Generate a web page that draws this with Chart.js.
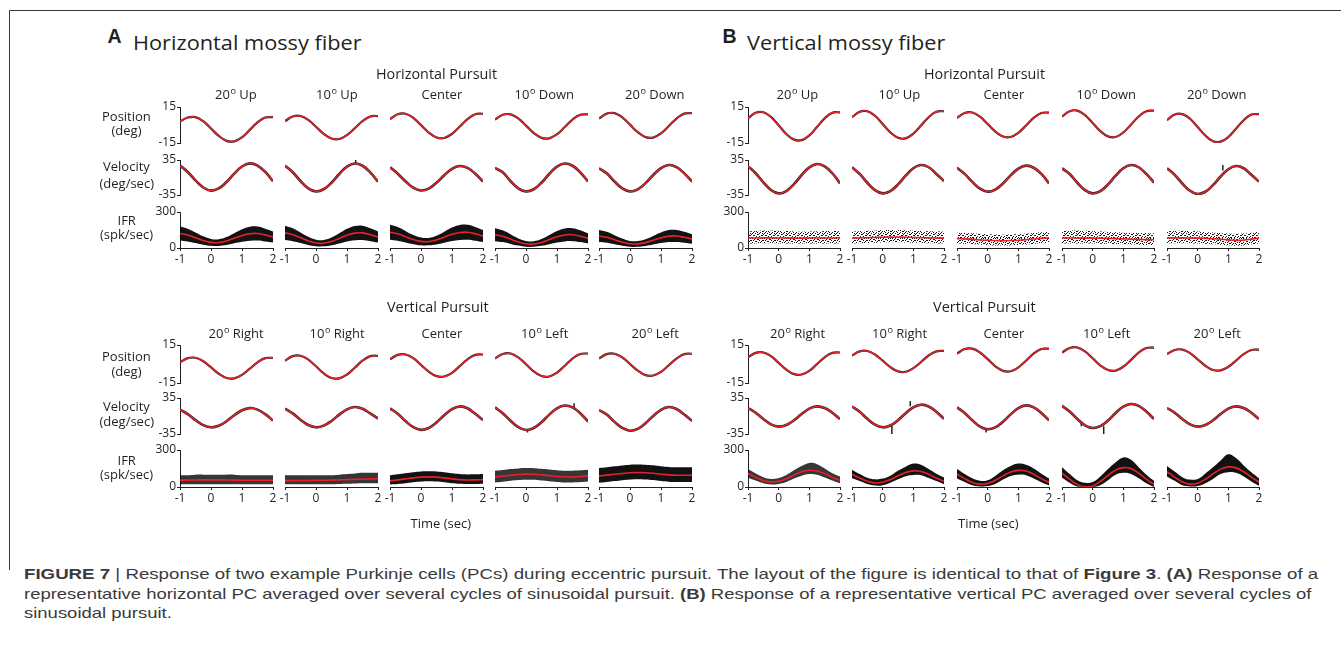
<!DOCTYPE html>
<html>
<head>
<meta charset="utf-8">
<script src="https://cdn.jsdelivr.net/npm/chart.js@4.4.1/dist/chart.umd.min.js"></script>
<style>
body { margin: 0; background: #fff; }
#fig { position: relative; width: 1341px; height: 648px; overflow: hidden; background: #fff; color: #231f20; }
#fig canvas { position: absolute; }
.t { position: absolute; white-space: nowrap; line-height: 1; transform-origin: 0 0; }
.bl { display: inline-block; width: 0; height: 0; }
.sup { font-size: 0.7em; position: relative; top: -0.5em; margin-left: 0.5px; }
.line { position: absolute; background: #3a3a3a; }
</style>
</head>
<body>
<div id="fig"></div>
<script>
// ---- data ----
const timeSec = [-1, -0.75, -0.5, -0.25, 0, 0.25, 0.5, 0.75, 1, 1.25, 1.5, 1.75, 2]
const timeTicks = [-1, 0, 1, 2]
const posTicks = [-15, 15]
const velTicks = [-35, 35]
const ifrTicks = [0, 300]

const hPursuitCols = ["20|Up", "10|Up", "Center", "10|Down", "20|Down"]
const vPursuitCols = ["20|Right", "10|Right", "Center", "10|Left", "20|Left"]

// A: horizontal mossy fiber, horizontal pursuit
const posA_H = [
    [3.0, 6.2, 6.6, 3.2, -2.9, -9.1, -13.2, -13.6, -10.2, -4.1, 2.1, 6.2, 6.6],
    [3.2, 7.1, 7.5, 4.2, -1.5, -7.4, -11.3, -11.7, -8.4, -2.7, 3.2, 7.1, 7.5],
    [4.9, 9.0, 9.4, 6.0, -0.1, -6.3, -10.4, -10.8, -7.4, -1.3, 4.9, 9.0, 9.4],
    [4.5, 8.5, 8.9, 5.5, -0.5, -6.7, -10.7, -11.1, -7.7, -1.7, 4.5, 8.5, 8.9],
    [5.4, 9.5, 9.9, 6.4, 0.3, -6.0, -10.1, -10.5, -7.0, -0.9, 5.4, 9.5, 9.9]
]
const velA_H = [
    [23.9, 11.1, -5.8, -20.0, -26.3, -21.9, -9.1, 7.8, 22.0, 28.3, 23.9, 11.1, -7.5],
    [23.5, 10.4, -7.0, -21.6, -28.0, -23.5, -10.4, 7.0, 21.6, 28.0, 23.5, 10.4, -8.5],
    [20.5, 7.6, -7.6, -20.4, -26.0, -22.1, -10.6, 4.6, 17.4, 23.0, 19.1, 7.6, -8.0],
    [19.0, 10.4, -7.0, -21.6, -28.0, -23.5, -10.4, 7.0, 21.6, 28.0, 23.5, 10.4, -8.0],
    [18.5, 8.3, -8.1, -21.9, -28.0, -23.8, -11.3, 5.1, 18.9, 25.0, 20.8, 8.3, -8.1]
]
const ifrA_H = [
    [121, 108, 85, 62, 47, 45, 58, 81, 104, 119, 121, 108, 92],
    [126, 111, 86, 59, 42, 40, 55, 80, 107, 124, 126, 111, 92],
    [131, 118, 94, 70, 55, 53, 66, 90, 114, 129, 131, 118, 100],
    [111, 98, 74, 50, 35, 33, 46, 70, 94, 109, 111, 98, 80],
    [100, 89, 69, 49, 35, 34, 45, 65, 85, 99, 100, 89, 75]
]
const ifrHiA_H = [
    [179, 161, 129, 97, 76, 73, 91, 123, 156, 177, 179, 161, 138],
    [186, 165, 130, 93, 69, 66, 87, 122, 160, 184, 186, 165, 138],
    [193, 175, 142, 108, 87, 84, 102, 136, 170, 191, 193, 175, 150],
    [165, 147, 114, 80, 59, 56, 74, 108, 142, 163, 165, 147, 122],
    [150, 135, 107, 79, 59, 58, 73, 101, 129, 149, 150, 135, 115]
]
const ifrLoA_H = [
    [63, 55, 41, 27, 18, 17, 25, 39, 52, 61, 63, 55, 45],
    [66, 57, 42, 25, 15, 14, 23, 38, 54, 64, 66, 57, 45],
    [69, 61, 46, 32, 23, 22, 30, 44, 58, 67, 69, 61, 50],
    [57, 49, 34, 20, 11, 10, 18, 32, 46, 55, 57, 49, 38],
    [50, 43, 31, 19, 11, 10, 17, 29, 41, 49, 50, 43, 35]
]

// A: horizontal mossy fiber, vertical pursuit
const posA_V = [
    [1.3, 4.6, 4.9, 2.2, -2.7, -7.7, -11.0, -11.3, -8.6, -3.7, 1.3, 4.6, 4.9],
    [2.6, 6.2, 6.5, 3.5, -1.8, -7.4, -11.0, -11.3, -8.3, -3.0, 2.6, 6.2, 6.5],
    [3.7, 7.2, 7.5, 4.6, -0.7, -6.1, -9.6, -9.9, -7.0, -1.7, 3.7, 7.2, 7.5],
    [4.3, 7.9, 8.3, 5.2, -0.2, -5.9, -9.5, -9.9, -6.8, -1.4, 4.3, 7.9, 8.3],
    [4.3, 7.8, 8.1, 5.2, 0.0, -5.3, -8.8, -9.1, -6.2, -1.0, 4.3, 7.8, 8.1]
]
const velA_V = [
    [12.4, 3.6, -8.0, -17.7, -22.0, -19.0, -10.2, 1.4, 11.1, 15.4, 12.4, 3.6, -8.9],
    [14.2, 5.0, -7.2, -17.5, -22.0, -18.8, -9.6, 2.6, 12.9, 17.4, 14.2, 5.0, -5.0],
    [15.0, 4.2, -9.9, -21.8, -27.0, -23.4, -12.6, 1.5, 13.4, 18.6, 15.0, 4.2, -8.0],
    [16.7, 5.5, -9.3, -21.6, -27.1, -23.3, -12.1, 2.7, 15.0, 20.5, 16.7, 5.5, -10.8],
    [11.5, 2.9, -11.4, -23.3, -28.6, -24.9, -14.1, 0.2, 12.1, 17.4, 13.7, 2.9, -9.5]
]
const ifrA_V = [
    [55, 56, 57, 58, 58, 58, 57, 56, 55, 55, 55, 55, 55],
    [52, 52, 53, 53, 54, 55, 56, 58, 60, 62, 64, 66, 68],
    [50, 58, 66, 74, 80, 82, 80, 74, 66, 60, 57, 58, 60],
    [82, 88, 95, 101, 104, 103, 98, 92, 86, 82, 82, 85, 90],
    [90, 96, 103, 110, 116, 118, 116, 111, 104, 98, 95, 95, 96]
]
const ifrHiA_V = [
    [95, 95, 100, 100, 100, 100, 100, 100, 95, 95, 95, 95, 95],
    [95, 95, 95, 95, 95, 95, 95, 100, 105, 110, 115, 115, 115],
    [95, 103, 111, 119, 125, 127, 125, 119, 111, 105, 102, 103, 105],
    [132, 138, 145, 151, 154, 153, 148, 142, 136, 132, 132, 135, 140],
    [155, 161, 168, 175, 181, 183, 181, 176, 169, 163, 160, 160, 161]
]
const ifrLoA_V = [
    [22, 22, 22, 22, 22, 22, 22, 22, 22, 22, 22, 22, 22],
    [22, 22, 22, 22, 22, 22, 22, 24, 26, 28, 30, 30, 30],
    [20, 24, 30, 38, 44, 46, 44, 38, 30, 26, 24, 24, 26],
    [37, 43, 50, 56, 59, 58, 53, 47, 41, 37, 37, 40, 45],
    [35, 41, 48, 55, 61, 63, 61, 56, 49, 43, 40, 40, 41]
]

// B: vertical mossy fiber, horizontal pursuit
const posB_H = [
    [5.5, 10.2, 10.6, 6.7, -0.3, -7.5, -12.2, -12.6, -8.7, -1.7, 5.5, 10.2, 10.6],
    [6.5, 11.1, 11.5, 7.7, 0.9, -6.1, -10.7, -11.1, -7.3, -0.5, 6.5, 11.1, 11.5],
    [5.9, 10.0, 10.4, 6.9, 0.8, -5.5, -9.6, -10.0, -6.5, -0.4, 5.9, 10.0, 10.4],
    [7.1, 11.5, 12.0, 8.2, 1.7, -5.1, -9.5, -10.0, -6.2, 0.3, 7.1, 11.5, 12.0],
    [4.0, 8.7, 9.1, 5.2, -1.7, -8.8, -13.5, -13.9, -10.0, -3.1, 4.0, 8.7, 9.1]
]
const velB_H = [
    [22.3, 8.5, -9.8, -25.0, -31.8, -27.1, -13.3, 5.0, 20.2, 27.0, 22.3, 8.5, -11.7],
    [20.5, 7.1, -10.5, -25.3, -31.8, -27.3, -13.9, 3.7, 18.5, 25.0, 20.5, 7.1, -7.0],
    [19.5, 7.3, -8.8, -22.3, -28.3, -24.1, -11.9, 4.2, 17.7, 23.7, 19.5, 7.3, -11.7],
    [18.3, 7.1, -10.5, -25.3, -31.8, -27.3, -13.9, 3.7, 18.5, 25.0, 20.5, 7.1, -10.3],
    [18.5, 5.4, -12.0, -26.6, -33.0, -28.5, -15.4, 2.0, 16.6, 23.0, 18.5, 5.4, -8.3]
]
const ifrB_H = [
    [83, 83, 84, 84, 83, 83, 82, 82, 83, 83, 83, 83, 83],
    [82, 84, 86, 88, 90, 92, 92, 90, 88, 86, 84, 83, 82],
    [78, 76, 72, 68, 64, 62, 61, 62, 65, 70, 75, 80, 83],
    [83, 83, 83, 82, 82, 81, 80, 78, 76, 74, 72, 70, 69],
    [84, 84, 84, 83, 82, 80, 77, 73, 68, 64, 66, 74, 82]
]
const ifrHiB_H = [
    [140, 142, 145, 146, 144, 141, 138, 136, 137, 139, 140, 141, 140],
    [138, 140, 143, 146, 148, 150, 150, 147, 144, 141, 139, 138, 137],
    [128, 126, 122, 118, 114, 112, 111, 112, 116, 121, 126, 131, 134],
    [142, 144, 145, 143, 140, 137, 134, 131, 128, 126, 124, 123, 122],
    [140, 142, 143, 141, 138, 134, 130, 126, 121, 118, 120, 128, 136]
]
const ifrLoB_H = [
    [38, 38, 39, 39, 38, 38, 37, 37, 38, 38, 38, 38, 38],
    [37, 39, 41, 43, 45, 47, 47, 45, 43, 41, 39, 38, 37],
    [37, 35, 31, 27, 23, 21, 20, 21, 24, 29, 34, 39, 42],
    [38, 38, 38, 37, 37, 36, 35, 33, 31, 29, 27, 25, 24],
    [39, 39, 39, 38, 37, 35, 32, 28, 23, 19, 21, 29, 37]
]

// B: vertical mossy fiber, vertical pursuit
const posB_V = [
    [5.3, 8.8, 9.1, 6.2, 0.9, -4.5, -8.0, -8.3, -5.4, -0.1, 5.3, 8.8, 9.1],
    [6.7, 10.0, 10.3, 7.5, 2.6, -2.5, -5.8, -6.1, -3.3, 1.6, 6.7, 10.0, 10.3],
    [8.2, 11.8, 12.1, 9.1, 3.8, -1.8, -5.4, -5.7, -2.7, 2.6, 8.2, 11.8, 12.1],
    [9.0, 12.6, 13.0, 9.9, 4.5, -1.2, -4.8, -5.2, -2.1, 3.3, 9.0, 12.6, 13.0],
    [7.8, 11.1, 11.4, 8.6, 3.7, -1.4, -4.7, -5.0, -2.2, 2.7, 7.8, 11.1, 11.4]
]
const velB_V = [
    [15.5, 6.3, -5.9, -16.2, -20.7, -17.5, -8.3, 3.9, 14.2, 18.7, 15.5, 6.3, -5.9],
    [18.5, 8.1, -5.5, -16.9, -22.0, -18.5, -8.1, 5.5, 16.9, 22.0, 18.5, 8.1, -5.5],
    [16.9, 6.0, -8.4, -20.5, -25.8, -22.1, -11.2, 3.2, 15.3, 20.6, 16.9, 6.0, -8.4],
    [19.7, 8.7, -5.9, -18.0, -23.4, -19.7, -8.7, 5.9, 18.0, 23.4, 19.7, 8.7, -5.9],
    [15.5, 6.3, -5.9, -16.2, -20.7, -17.5, -8.3, 3.9, 14.2, 18.7, 15.5, 6.3, -5.9]
]
const ifrB_V = [
    [109, 79, 53, 40, 46, 67, 97, 123, 136, 130, 109, 79, 53],
    [103, 73, 46, 33, 39, 61, 91, 118, 131, 125, 103, 73, 46],
    [104, 68, 37, 23, 29, 54, 90, 121, 135, 129, 104, 68, 37],
    [113, 64, 21, 1, 9, 45, 94, 137, 157, 149, 113, 64, 21],
    [124, 80, 41, 23, 31, 62, 106, 145, 163, 155, 124, 80, 41]
]
const ifrHiB_V = [
    [145, 110, 80, 65, 72, 97, 135, 170, 195, 185, 150, 112, 85],
    [140, 105, 75, 62, 68, 92, 132, 165, 190, 180, 145, 108, 78],
    [145, 105, 70, 50, 55, 90, 135, 170, 190, 180, 150, 108, 70],
    [160, 105, 55, 35, 40, 85, 145, 200, 240, 220, 160, 100, 50],
    [170, 125, 80, 60, 65, 110, 160, 215, 265, 235, 175, 120, 70]
]
const ifrLoB_V = [
    [75, 52, 30, 20, 24, 40, 68, 92, 105, 100, 78, 52, 30],
    [70, 48, 25, 12, 15, 35, 62, 88, 98, 95, 72, 48, 22],
    [68, 40, 15, 5, 8, 25, 60, 90, 100, 95, 68, 38, 12],
    [75, 35, 5, 0, 0, 15, 55, 100, 115, 105, 70, 30, 0],
    [85, 50, 15, 5, 8, 30, 65, 105, 120, 115, 85, 45, 10]
]

// brief saccade-like glitches in the black velocity traces: [block, column, time, from, to]
const velSpikes = [
    ["A_H", 1, 1.28, 27, 39],
    ["A_V", 3, 1.55, 15, 25],
    ["A_V", 3, 0.05, -27, -32],
    ["B_H", 4, 0.82, 14, 25],
    ["B_V", 1, 0.3, -16, -35],
    ["B_V", 1, 0.9, 19, 29],
    ["B_V", 2, -0.05, -25, -32],
    ["B_V", 3, 0.36, -20, -35],
    ["B_V", 3, -0.37, -12, -20]
]

// ---- layout ----
const INK = "#231f20"
const RED = "#e8202a"
const FONT = '"Open Sans", sans-serif'
const PADL = 44, PADR = 8, PADT = 10, PADB = 24

const colLeftA = [180, 285, 390, 495, 599]
const colLeftB = [748, 852, 957, 1062, 1167]
const titleXA = [236, 337, 442, 544.5, 655]
const titleXB = [797.5, 899.5, 1004, 1106.5, 1217]
const rowsTop = [[107, 36], [160, 35], [212, 36]]
const rowsBottom = [[345, 38], [398, 36], [450, 37]]

// speckle mask for the sparse spike-rate dot clouds (1 = dot)
const speckle = ["100100001010", "001001100000", "010000010011", "000110000100", "100000101000", "001010000011",
                 "010001001000", "100100010010", "000001100001", "011000000110", "000010010000", "100100100101"]
const cloudFill = { dense: "rgba(0,0,0,0.93)", medium: "rgba(10,10,10,0.82)" }
{
    const pc = document.createElement("canvas")
    const n = speckle.length
    pc.width = n
    pc.height = n
    const g = pc.getContext("2d")
    g.fillStyle = "#111"
    speckle.forEach((row, yy) => {
        for (let xx = 0; xx < n; xx++) if (row[xx] === "1") g.fillRect(xx, yy, 1, 1)
    })
    cloudFill.sparse = g.createPattern(pc, "repeat")
}

const fig = document.getElementById("fig")

function txt(html, x, base, o) {
    o = o || {}
    const d = document.createElement("div")
    d.className = "t"
    d.style.fontSize = (o.size || 13) + "px"
    d.style.fontFamily = o.family || FONT
    if (o.weight) d.style.fontWeight = o.weight
    if (o.color) d.style.color = o.color
    d.innerHTML = html + '<span class="bl"></span>'
    fig.appendChild(d)
    const w = d.offsetWidth
    const b = d.querySelector(".bl").offsetTop
    let sx = o.scale || 1
    if (o.width) sx = o.width / w
    if (sx !== 1) d.style.transform = "scaleX(" + sx + ")"
    let left = x
    if (o.align === "center") left = x - w * sx / 2
    if (o.align === "right") left = x - w * sx
    d.style.left = left + "px"
    d.style.top = (base - b) + "px"
    return sx
}

function degTitle(s) {
    if (s.indexOf("|") < 0) return s
    const p = s.split("|")
    return p[0] + '<span class="sup">o</span> ' + p[1]
}

function pts(arr) {
    return timeSec.map((t, i) => ({ x: t, y: arr[i] }))
}

function makePlot(x, y, w, h, yMin, yMax, yTicks, showX, showY, datasets) {
    const c = document.createElement("canvas")
    const cw = w + PADL + PADR, ch = h + PADT + PADB
    c.width = cw
    c.height = ch
    c.style.left = (x - PADL) + "px"
    c.style.top = (y - PADT) + "px"
    c.style.width = cw + "px"
    c.style.height = ch + "px"
    fig.appendChild(c)

    const axis = () => ({
        grid: { drawOnChartArea: false, drawTicks: true, tickLength: 3, color: INK, lineWidth: 1 },
        border: { display: true, color: INK, width: 1 },
        ticks: { color: INK, font: { family: "Open Sans", size: 12 }, padding: 1, autoSkip: false, maxRotation: 0 }
    })

    const xs = axis()
    xs.type = "linear"
    xs.min = -1
    xs.max = 2
    xs.display = showX
    xs.afterBuildTicks = s => { s.ticks = timeTicks.map(v => ({ value: v })) }
    if (showX) xs.afterFit = s => { s.height = PADB; s.paddingLeft = 0; s.paddingRight = 0 }

    const ys = axis()
    ys.type = "linear"
    ys.min = yMin
    ys.max = yMax
    ys.display = showY
    ys.afterBuildTicks = s => { s.ticks = yTicks.map(v => ({ value: v })) }
    if (showY) ys.afterFit = s => { s.width = PADL; s.paddingTop = 0; s.paddingBottom = 0 }

    new Chart(c, {
        type: "line",
        data: { datasets: datasets },
        options: {
            responsive: false,
            animation: false,
            devicePixelRatio: 1,
            events: [],
            layout: { padding: { left: showY ? 0 : PADL, right: PADR, top: PADT, bottom: showX ? 0 : PADB } },
            plugins: { legend: { display: false }, tooltip: { enabled: false } },
            elements: { point: { radius: 0 }, line: { tension: 0.4 } },
            scales: { x: xs, y: ys }
        }
    })
}

function traceSets(arr, blackWidth, spikes) {
    const sets = [
        { data: pts(arr), borderColor: RED, borderWidth: 1.5, order: 0 },
        { data: pts(arr), borderColor: INK, borderWidth: blackWidth, order: 1 }
    ]
    spikes.forEach(s => {
        sets.push({ data: [{ x: s[2], y: s[3] }, { x: s[2], y: s[4] }], borderColor: INK, borderWidth: 1.5, tension: 0, order: 1 })
    })
    return sets
}

const blocks = [
    { key: "A_H", cols: colLeftA, w: 93, rows: rowsTop, pos: posA_H, vel: velA_H, ifr: ifrA_H, hi: ifrHiA_H, lo: ifrLoA_H,
      cloud: ["dense", "dense", "dense", "dense", "dense"] },
    { key: "A_V", cols: colLeftA, w: 93, rows: rowsBottom, pos: posA_V, vel: velA_V, ifr: ifrA_V, hi: ifrHiA_V, lo: ifrLoA_V,
      cloud: ["medium", "medium", "dense", "medium", "dense"] },
    { key: "B_H", cols: colLeftB, w: 92, rows: rowsTop, pos: posB_H, vel: velB_H, ifr: ifrB_H, hi: ifrHiB_H, lo: ifrLoB_H,
      cloud: ["sparse", "sparse", "sparse", "sparse", "sparse"] },
    { key: "B_V", cols: colLeftB, w: 92, rows: rowsBottom, pos: posB_V, vel: velB_V, ifr: ifrB_V, hi: ifrHiB_V, lo: ifrLoB_V,
      cloud: ["medium", "dense", "dense", "dense", "dense"] }
]

blocks.forEach(b => {
    b.cols.forEach((left, i) => {
        const first = i === 0
        const r = b.rows
        makePlot(left, r[0][0], b.w, r[0][1], -15, 15, posTicks, false, first, traceSets(b.pos[i], 2.2, []))
        const sp = velSpikes.filter(s => s[0] === b.key && s[1] === i)
        makePlot(left, r[1][0], b.w, r[1][1], -35, 35, velTicks, false, first, traceSets(b.vel[i], 2.6, sp))
        const fillStyle = cloudFill[b.cloud[i]]
        makePlot(left, r[2][0], b.w, r[2][1], 0, 300, ifrTicks, true, first, [
            { data: pts(b.ifr[i]), borderColor: RED, borderWidth: 1.6, order: 0 },
            { data: pts(b.hi[i]), borderColor: "rgba(0,0,0,0)", backgroundColor: fillStyle, borderWidth: 0, fill: "+1", order: 2 },
            { data: pts(b.lo[i]), borderColor: "rgba(0,0,0,0)", borderWidth: 0, order: 3 }
        ])
    })
})

// ---- frame ----
function rule(x, y, w, h) {
    const d = document.createElement("div")
    d.className = "line"
    d.style.left = x + "px"; d.style.top = y + "px"
    d.style.width = w + "px"; d.style.height = h + "px"
    fig.appendChild(d)
}
rule(9, 10, 1332, 1)
rule(9, 10, 1, 560)

// ---- texts ----
txt("A", 107.5, 43.3, { family: '"Liberation Sans", Arial, sans-serif', weight: "bold", size: 19.5 })
txt("B", 722.5, 43.3, { family: '"Liberation Sans", Arial, sans-serif', weight: "bold", size: 19.5 })
txt("Horizontal mossy fiber", 133, 50, { size: 20.5, width: 229 })
txt("Vertical mossy fiber", 747, 49.5, { size: 20.5, width: 198 })

txt("Horizontal Pursuit", 436.5, 79.3, { size: 14, align: "center", width: 121 })
txt("Horizontal Pursuit", 984.5, 79.3, { size: 14, align: "center", width: 121 })
txt("Vertical Pursuit", 437.5, 311.5, { size: 14, align: "center", width: 102 })
txt("Vertical Pursuit", 984.5, 311.5, { size: 14, align: "center", width: 103 })

hPursuitCols.forEach((s, i) => {
    txt(degTitle(s), titleXA[i], 98.5, { align: "center" })
    txt(degTitle(s), titleXB[i], 98.5, { align: "center" })
})
vPursuitCols.forEach((s, i) => {
    txt(degTitle(s), titleXA[i], 337.5, { align: "center" })
    txt(degTitle(s), titleXB[i], 337.5, { align: "center" })
})

const rowLabelX = 126.5
;[[121, 135, 171, 187.6, 225, 238.6], [361, 375.5, 411, 426, 465, 479]].forEach(bs => {
    txt("Position", rowLabelX, bs[0], { align: "center" })
    txt("(deg)", rowLabelX, bs[1], { align: "center" })
    txt("Velocity", rowLabelX, bs[2], { align: "center" })
    txt("(deg/sec)", rowLabelX, bs[3], { align: "center" })
    txt("IFR", rowLabelX, bs[4], { align: "center" })
    txt("(spk/sec)", rowLabelX, bs[5], { align: "center" })
})

txt("Time (sec)", 441, 527.5, { align: "center" })
txt("Time (sec)", 988.5, 527.5, { align: "center" })

// ---- caption ----
const CAP = { family: '"Liberation Sans Narrow", "Liberation Sans", Arial, sans-serif', size: 15, color: "#3a3a3a" }
const s1 = txt('<b>FIGURE 7</b> | Response of two example Purkinje cells (PCs) during eccentric pursuit. The layout of the figure is identical to that of <b>Figure 3</b>. <b>(A)</b> Response of a',
    24, 578.5, Object.assign({ width: 1294 }, CAP))
const s2 = txt('representative horizontal PC averaged over several cycles of sinusoidal pursuit. <b>(B)</b> Response of a representative vertical PC averaged over several cycles of',
    24, 598.5, Object.assign({ width: 1288 }, CAP))
txt("sinusoidal pursuit.", 24, 618, Object.assign({ scale: s2 }, CAP))
</script>
</body>
</html>
